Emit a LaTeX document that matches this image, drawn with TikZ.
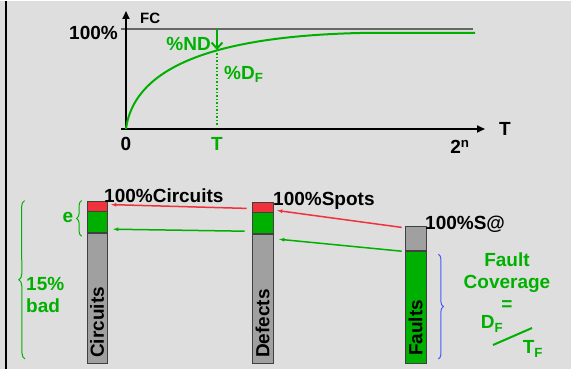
\documentclass[tikz,border=0pt]{standalone}
\usepackage{fontspec}
\setmainfont{Liberation Sans}
\usepackage{xcolor}
\usetikzlibrary{arrows.meta, positioning, decorations.pathreplacing}

\definecolor{fcgreen}{RGB}{0,176,0}
\definecolor{fcred}{RGB}{240,50,60}
\definecolor{fcgray}{RGB}{160,160,160}
\definecolor{fcblue}{RGB}{70,90,255}
\definecolor{fcback}{RGB}{222,222,222}

\begin{document}
\begin{tikzpicture}[
    x=1pt, y=1pt,
    lbl/.style={font=\bfseries\fontsize{19}{22}\selectfont, inner sep=0pt},
    small/.style={font=\bfseries\fontsize{15}{17}\selectfont, inner sep=0pt},
    bar/.style={draw=black!75, line width=0.8pt, inner sep=0pt, minimum width=20pt},
    axis/.style={line width=1.8pt, -{Triangle[length=8pt, width=7pt]}},
    curve/.style={draw=fcgreen, line width=2pt},
    rarrow/.style={draw=fcred, line width=1.5pt, -{Latex[length=6pt, width=4pt]}},
    garrow/.style={draw=fcgreen, line width=1.5pt, -{Latex[length=6pt, width=4pt]}},
    gbrace/.style={draw=fcgreen, line width=1pt, decorate, decoration={brace, amplitude=5pt}}
]
    % background and frame
    \fill[fcback] (0,0) rectangle (571,368);
    \draw[line width=2pt] (6,0) -- (6,368);

    % upper graph
    \coordinate (origin) at (126,240);
    \coordinate (yend) at (126,358);
    \coordinate (xstart) at (121,240);
    \coordinate (xend) at (485,240);
    \coordinate (tick) at (121,340);
    \coordinate (top) at (473,340);
    \coordinate (toparr) at (217,340);
    \coordinate (hit) at (217,319);
    \coordinate (tfoot) at (217,243);

    \draw[line width=1.2pt, black!60] (tick) -- (top);
    \draw[axis] (origin) -- (yend);
    \draw[axis] (xstart) -- (xend);
    \draw[curve] (origin) .. controls (135,308) and (230,333) .. (360,336) -- (475,336);
    \draw[fcgreen, line width=1.5pt, dotted] (hit) -- (tfoot);
    \draw[draw=fcgreen, line width=2pt, -{Straight Barb[length=6pt, width=11pt]}] (toparr) -- (hit);

    \node[small, anchor=west] (fc) at (140,351) {FC};
    \node[lbl, anchor=east] (full) at (118,336) {100\%};
    \node[lbl] (zero) at (126,225) {0};
    \node[lbl, text=fcgreen] (tmark) at (217,225) {T};
    \node[lbl] (tend) at (505,240) {T};
    \node[lbl] (pow) at (460,222) {2\textsuperscript{n}};
    \node[lbl, text=fcgreen, anchor=east] (nd) at (211,325) {\%ND};
    \node[lbl, text=fcgreen, anchor=west] (df) at (224,295) {\%D\textsubscript{F}};

    % circuits bar
    \node[bar, fill=fcgray, minimum height=130pt, anchor=south] (cirGray) at (97,5) {};
    \node[bar, fill=fcgreen, minimum height=21pt, above=0pt of cirGray] (cirGreen) {};
    \node[bar, fill=fcred, minimum height=10pt, above=0pt of cirGreen] (cirRed) {};
    \node[lbl, rotate=90, anchor=west] (cirText) at ([yshift=6pt]cirGray.south) {Circuits};

    % defects bar
    \node[bar, fill=fcgray, minimum width=21pt, minimum height=129pt, anchor=south] (defGray) at (262.5,5) {};
    \node[bar, fill=fcgreen, minimum width=21pt, minimum height=21pt, above=0pt of defGray] (defGreen) {};
    \node[bar, fill=fcred, minimum width=21pt, minimum height=10pt, above=0pt of defGreen] (defRed) {};
    \node[lbl, rotate=90, anchor=west] (defText) at ([yshift=6pt]defGray.south) {Defects};

    % faults bar
    \node[bar, fill=fcgreen, minimum width=21pt, minimum height=112pt, anchor=south] (fltGreen) at (415.5,5) {};
    \node[bar, fill=fcgray, minimum width=21pt, minimum height=24pt, above=0pt of fltGreen] (fltGray) {};
    \node[lbl, rotate=90, anchor=west] (fltText) at ([yshift=8pt]fltGreen.south) {Faults};

    \node[lbl, anchor=base west] (allCir) at (104,166) {100\%Circuits};
    \node[lbl, anchor=base west] (allSpot) at (273,163) {100\%Spots};
    \node[lbl, anchor=base west] (allSa) at (425,139) {100\%S@};

    % mapping arrows
    \draw[rarrow] ([xshift=-3pt, yshift=-1pt]fltGray.north west) -- ([xshift=3pt, yshift=2pt]defRed.south east);
    \draw[garrow] ([xshift=-3pt]fltGreen.north west) -- ([xshift=5pt, yshift=-5pt]defGray.north east);
    \draw[rarrow] ([xshift=-5pt, yshift=4pt]defRed.south west) -- ([xshift=3pt, yshift=-4pt]cirRed.north east);
    \draw[garrow] ([xshift=-7pt, yshift=3pt]defGray.north west) -- ([xshift=5pt, yshift=4pt]cirGray.north east);

    % braces
    \draw[gbrace] ([xshift=-5pt, yshift=-3pt]cirGray.north west) -- ([xshift=-5pt]cirRed.north west);
    \node[lbl, text=fcgreen] (eText) at (68,152) {e};
    \draw[gbrace, decoration={amplitude=6pt}] (25,10) -- ([xshift=-62pt]cirRed.north west);
    \node[lbl, text=fcgreen, anchor=west, align=left] (bad) at (26,74) {15\%\\bad};
    \draw[draw=fcblue, line width=1pt, decorate, decoration={brace, amplitude=5pt}]
        ([xshift=12pt, yshift=-3pt]fltGreen.north east) -- ([xshift=12pt, yshift=5pt]fltGreen.south east);

    % fault coverage ratio
    \node[lbl, text=fcgreen, align=center] (cover) at (507,87) {Fault\\Coverage\\=};
    \node[lbl, text=fcgreen] (dF) at (492,45) {D\textsubscript{F}};
    \node[lbl, text=fcgreen] (tF) at (533,20) {T\textsubscript{F}};
    \coordinate (slashA) at (493,24);
    \coordinate (slashB) at (532,41);
    \draw[fcgreen, line width=2pt] (slashA) -- (slashB);
\end{tikzpicture}
\end{document}
